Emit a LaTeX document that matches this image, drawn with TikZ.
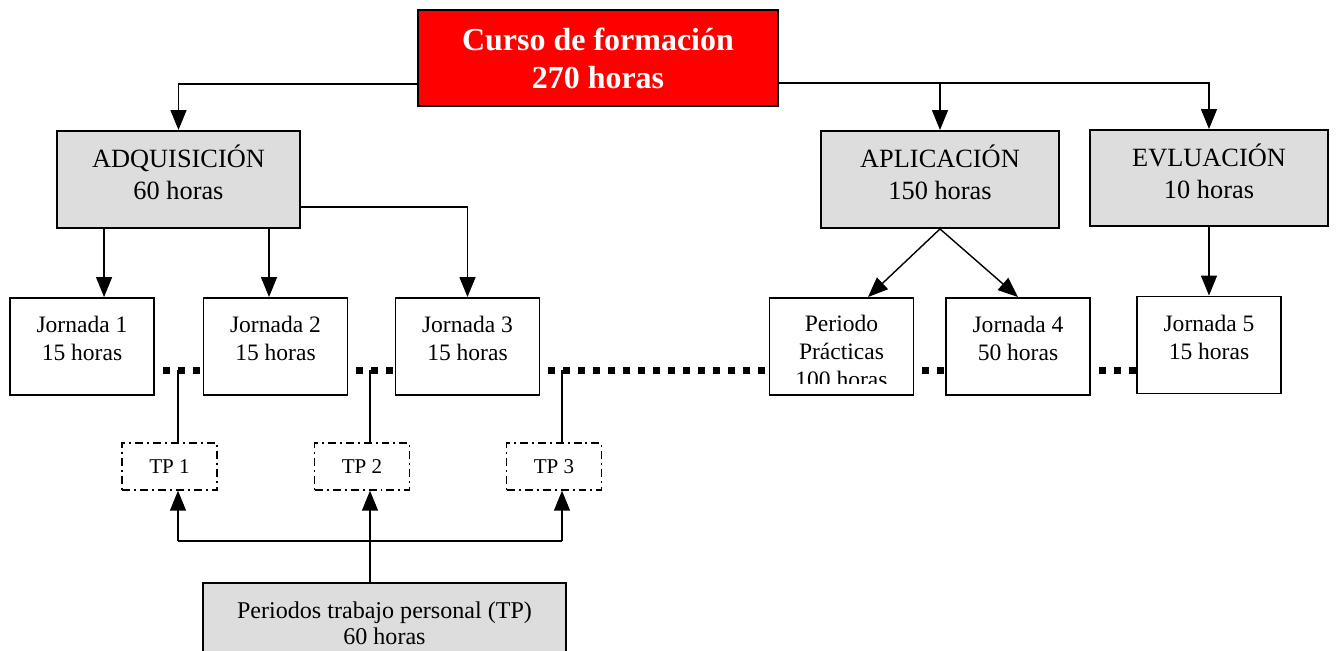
\documentclass[tikz,border=0pt]{standalone}
\usepackage{fontspec}
\setmainfont{Liberation Serif}
\usetikzlibrary{arrows.meta}

\begin{document}
\begin{tikzpicture}[x=0.02cm,y=-0.02cm,>={Triangle[length=0.4cm,width=0.32cm]},line width=0.8pt,
    box/.style={draw,line width=1.1pt,align=center,inner sep=0pt},
    top node/.style={box,fill=red,text=white,font=\fontsize{18.2}{21.6}\selectfont\bfseries,minimum width=7.2cm,minimum height=1.92cm},
    gray node/.style={box,fill=gray!27,minimum width=4.76cm,minimum height=1.94cm},
    gray text/.style={align=center,font=\fontsize{15}{18.1}\selectfont,yshift=0.14cm},
    day node/.style={box,fill=white,minimum width=2.88cm,minimum height=1.94cm},
    day text/.style={align=center,font=\fontsize{13.4}{15.9}\selectfont,yshift=0.16cm},
    tp node/.style={draw,line width=0.8pt,dash pattern=on 0.16cm off 0.08cm on 0.04cm off 0.08cm,font=\fontsize{12}{14}\selectfont,minimum width=1.9cm,minimum height=0.94cm},
    gap line/.style={line width=0.14cm,dash pattern=on 0.14cm off 0.16cm,dash phase=0.14cm}]

    \clip (0,0) rectangle (1336,651);

    \node[top node] (curso) at (598,58) {Curso de formación\\270 horas};
    \node[gray node,minimum width=4.86cm,label={[gray text]center:ADQUISICIÓN\\60 horas}] (adq) at (178.5,179.5) {};
    \node[gray node,label={[gray text]center:APLICACIÓN\\150 horas}] (apl) at (940,179.5) {};
    \node[gray node,minimum height=1.92cm,label={[gray text]center:EVLUACIÓN\\10 horas}] (evl) at (1209,178) {};

    \node[day node,label={[day text]center:Jornada 1\\15 horas}] (j1) at (82,346.5) {};
    \node[day node,label={[day text]center:Jornada 2\\15 horas}] (j2) at (275.5,346.5) {};
    \node[day node,label={[day text]center:Jornada 3\\15 horas}] (j3) at (467.5,346.5) {};
    \node[day node] (pp) at (841.5,346.5) {};
    \node[day node,label={[day text]center:Jornada 4\\50 horas}] (j4) at (1018,346.5) {};
    \node[day node,label={[day text]center:Jornada 5\\15 horas}] (j5) at (1209,345) {};

    \begin{scope}
        \clip (pp.north west) rectangle ([yshift=0.24cm]pp.south east);
        \node[day text,yshift=-0.26cm] (pptext) at (pp.center) {Periodo\\Prácticas\\100 horas};
    \end{scope}

    \node[tp node] (tp1) at (169.5,466.5) {TP 1};
    \node[tp node] (tp2) at (362,466.5) {TP 2};
    \node[tp node] (tp3) at (554,466.5) {TP 3};

    \node[box,fill=gray!27,font=\fontsize{13.7}{14.8}\selectfont,minimum width=7.26cm,minimum height=1.6cm] (tpp) at (384.5,623) {Periodos trabajo personal (TP)\\60 horas};

    \draw[->] ([yshift=0.46cm]curso.south west) -| (adq.north);
    \draw[->] ([yshift=0.48cm]curso.south east) -| (evl.north);
    \draw[->] ([yshift=0.48cm]curso.south east -| apl.north) -- (apl.north);

    \coordinate (a1) at ([xshift=0.96cm]adq.south west);
    \coordinate (a2) at ([xshift=4.26cm]adq.south west);
    \draw[->] (a1) -- (a1 |- j1.north);
    \draw[->] (a2) -- (a2 |- j2.north);
    \draw[->] ([yshift=0.44cm]adq.south east) -| (j3.north);

    \draw[->] (apl.south) -- ([xshift=0.53cm]pp.north);
    \draw[->] (apl.south) -- (j4.north);
    \draw[->] (evl.south) -- (j5.north);

    \draw[gap line] ([yshift=0.5cm]j1.south east) -- ([yshift=0.5cm]j2.south west);
    \draw[gap line] ([yshift=0.5cm]j2.south east) -- ([yshift=0.5cm]j3.south west);
    \draw[gap line] ([yshift=0.5cm]j3.south east) -- ([yshift=0.5cm]pp.south west);
    \draw[gap line] ([yshift=0.5cm]pp.south east) -- ([yshift=0.5cm]j4.south west);
    \draw[gap line] ([yshift=0.5cm]j4.south east) -- ([yshift=0.5cm]j4.south east -| j5.west);

    \coordinate (d1) at (178,370);
    \coordinate (d2) at (370,370);
    \coordinate (d3) at (562,370);
    \draw (d1) -- (d1 |- tp1.north);
    \draw (d2) -- (d2 |- tp2.north);
    \draw (d3) -- (d3 |- tp3.north);

    \coordinate (b1) at (178,541);
    \coordinate (b2) at (370,541);
    \coordinate (b3) at (562,541);
    \draw (b1) -- (b3);
    \draw[->] (b1) -- (b1 |- tp1.south);
    \draw[->] (b3) -- (b3 |- tp3.south);
    \draw[->] (b2 |- tpp.north) -- (b2 |- tp2.south);
\end{tikzpicture}
\end{document}
